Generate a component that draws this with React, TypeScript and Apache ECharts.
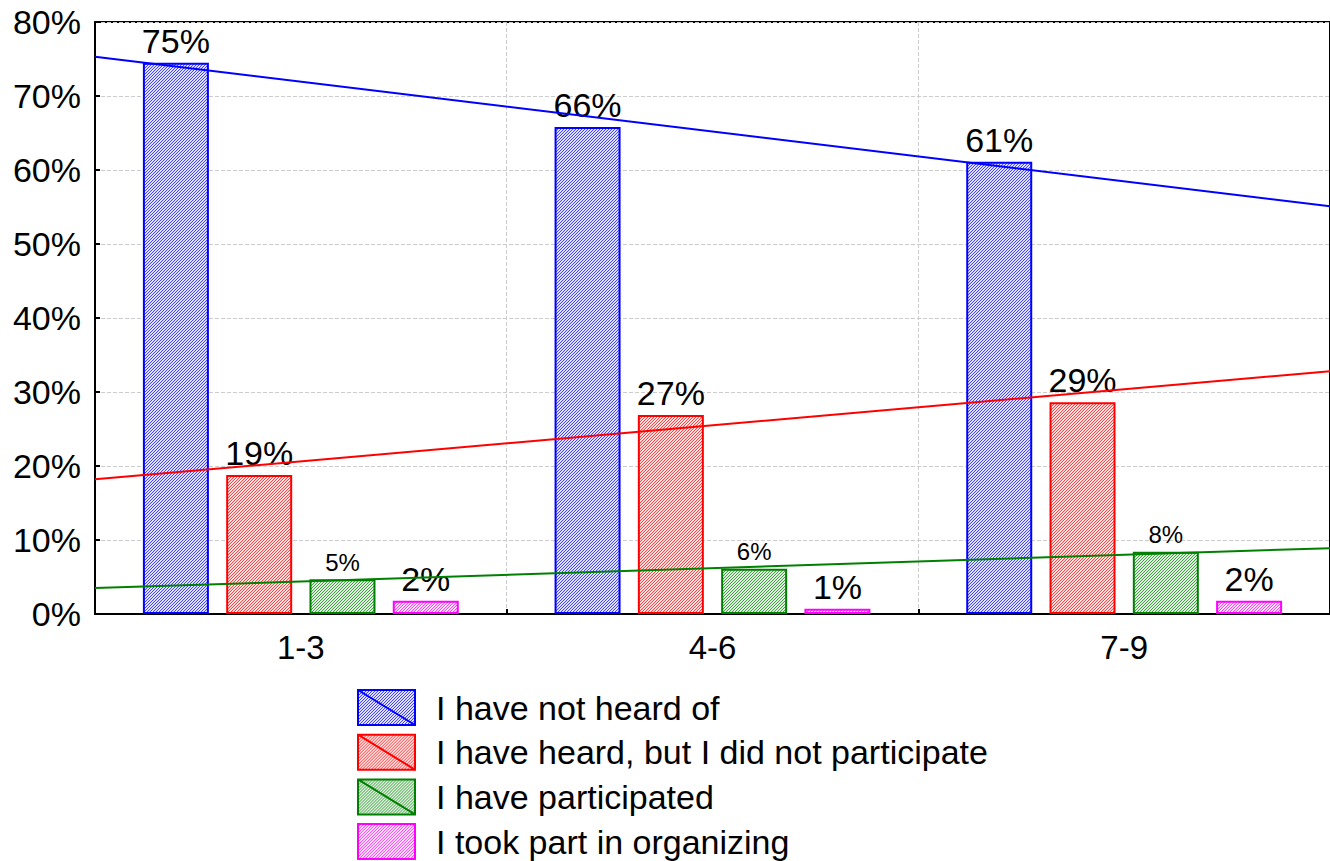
import React, { useEffect, useRef } from "react";
import * as echarts from "echarts";

const categories = ["1-3", "4-6", "7-9"];
const notHeard = [74.5, 65.8, 61.1];
const heardNoPart = [18.8, 26.9, 28.6];
const participated = [4.7, 6.1, 8.4];
const organizing = [1.8, 0.7, 1.8];

// trend lines: values at the left edge (x=0) and right edge (x=3) of the plot
const trendX = [0, 3];
const trendNotHeard = [75.3, 55.1];
const trendHeard = [18.2, 32.8];
const trendParticipated = [3.5, 8.9];

const seriesNames = [
  "I have not heard of",
  "I have heard, but I did not participate",
  "I have participated",
  "I took part in organizing",
];
const seriesColors = ["#0000ff", "#ff0000", "#008000", "#ff00ff"];
const yTicks = [0, 10, 20, 30, 40, 50, 60, 70, 80];

const FONT = "'Liberation Sans', Arial, sans-serif";

function mix(hex: string, t: number) {
  const r = parseInt(hex.slice(1, 3), 16);
  const g = parseInt(hex.slice(3, 5), 16);
  const b = parseInt(hex.slice(5, 7), 16);
  const m = (v: number) => Math.round(255 + (v - 255) * t);
  return `rgb(${m(r)},${m(g)},${m(b)})`;
}

function hatch(color: string) {
  const c = document.createElement("canvas");
  c.width = 3;
  c.height = 3;
  const ctx = c.getContext("2d")!;
  ctx.fillStyle = mix(color, 0.12);
  ctx.fillRect(0, 0, 3, 3);
  ctx.fillStyle = mix(color, 0.75);
  ctx.fillRect(0, 2, 1, 1);
  ctx.fillRect(1, 1, 1, 1);
  ctx.fillRect(2, 0, 1, 1);
  return { image: c, repeat: "repeat" as const };
}

export default function App() {
  const ref = useRef<HTMLDivElement>(null);
  useEffect(() => {
    if (!ref.current) return;
    const chart = echarts.init(ref.current, undefined, { renderer: "svg" });
    const barData = [notHeard, heardNoPart, participated, organizing];
    const bars = barData.map((d, i) => ({
      name: seriesNames[i],
      type: "bar",
      xAxisIndex: 0,
      yAxisIndex: 0,
      data: d,
      barWidth: 66,
      barGap: "26.2%",
      itemStyle: {
        color: hatch(seriesColors[i]),
        borderColor: seriesColors[i],
        borderWidth: 2,
      },
      label: {
        show: true,
        position: "top",
        distance: 5,
        color: "#000",
        fontFamily: FONT,
        fontSize: i === 2 ? 24 : 34,
        formatter: (p: any) => Math.round(p.value) + "%",
      },
      z: 2,
    }));
    const trends = [trendNotHeard, trendHeard, trendParticipated].map((t, i) => ({
      name: "trend" + i,
      type: "line",
      xAxisIndex: 1,
      yAxisIndex: 0,
      data: trendX.map((x, k) => [x, t[k]]),
      symbol: "none",
      lineStyle: { color: seriesColors[i], width: 2 },
      z: 5,
      silent: true,
    }));
    const legends = seriesNames.map((name, i) => ({
      data: [name],
      orient: "vertical",
      left: 357,
      top: 689 + i * 44.7,
      padding: 0,
      itemWidth: 57,
      itemHeight: 35,
      icon:
        i === 3
          ? "path://M0,0L57,0L57,35L0,35Z"
          : "path://M0,0L57,0L57,35L0,35Z M0,0L57,35",
      textStyle: {
        fontSize: 34,
        lineHeight: 35,
        color: "#000",
        fontFamily: FONT,
        padding: [0, 0, 0, 16],
      },
    }));
    chart.setOption({
      animation: false,
      backgroundColor: "#fff",
      textStyle: { fontFamily: FONT },
      grid: {
        left: 95,
        top: 22,
        width: 1248,
        height: 592,
        show: true,
        borderColor: "#000",
        borderWidth: 2,
        containLabel: false,
      },
      legend: legends,
      xAxis: [
        {
          type: "category",
          data: categories,
          boundaryGap: true,
          axisLine: { lineStyle: { color: "#000", width: 2 } },
          axisTick: { show: true, inside: true, length: 5, lineStyle: { color: "#000", width: 2 } },
          axisLabel: { fontSize: 33, color: "#000", margin: 17, fontFamily: FONT },
          splitLine: { show: true, lineStyle: { color: "#cccccc", type: "dashed", width: 1 } },
        },
        {
          type: "value",
          min: 0,
          max: 3,
          show: false,
          splitLine: { show: false },
        },
      ],
      yAxis: {
        type: "value",
        min: yTicks[0],
        max: yTicks[yTicks.length - 1],
        interval: 10,
        axisLine: { show: true, lineStyle: { color: "#000", width: 2 } },
        axisTick: { show: true, inside: true, length: 5, lineStyle: { color: "#000", width: 2 } },
        axisLabel: {
          fontSize: 34,
          color: "#000",
          margin: 14,
          fontFamily: FONT,
          formatter: "{value}%",
        },
        splitLine: { show: true, lineStyle: { color: "#cccccc", type: "dashed", width: 1 } },
      },
      series: [...bars, ...trends],
    });
    return () => chart.dispose();
  }, []);
  return (
    <div
      ref={ref}
      style={{ position: "fixed", left: 0, top: 0, width: 1330, height: 861 }}
    />
  );
}
